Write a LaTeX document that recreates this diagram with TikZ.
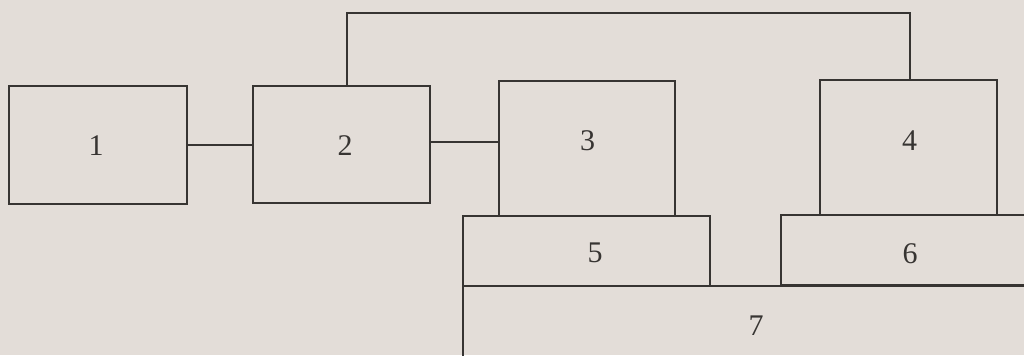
\documentclass[tikz,border=0pt]{standalone}
\usepackage{fontspec}
\setmainfont{Liberation Serif}
\definecolor{paper}{RGB}{227,221,216}
\definecolor{ink}{RGB}{55,52,50}
\begin{document}
\begin{tikzpicture}[x=0.5pt,y=-0.5pt,
  blk/.style={draw=ink,line width=0.7pt,rectangle,inner sep=0pt},
  lbl/.style={text=ink,inner sep=0pt,font=\fontsize{15}{17}\selectfont},
  wire/.style={draw=ink,line width=0.7pt}]
\fill[paper] (0,0) rectangle (1024,355);
\useasboundingbox (0,0) rectangle (1024,355);
\clip (0,0) rectangle (1024,355);
% boxes
\node[blk,minimum width=89pt,minimum height=59pt] (b1) at (98,145) {};
\node[blk,minimum width=88.5pt,minimum height=58.5pt] (b2) at (341.5,144.5) {};
\node[blk,minimum width=88pt,minimum height=67.5pt] (b3) at (587,148.5) {};
\node[blk,minimum width=88.5pt,minimum height=67.5pt] (b4) at (908.5,147.5) {};
\node[blk,minimum width=123.5pt,minimum height=35pt] (b5) at (586.5,251) {};
\node[blk,minimum width=130pt,minimum height=35pt] (b6) at (911,250) {};
\node[blk,line width=1.2pt,minimum width=300pt,minimum height=45pt] (b7) at (763,331) {};
% labels
\node[lbl] (t1) at (96,146) {1};
\node[lbl] (t2) at (345,145.5) {2};
\node[lbl] (t3) at (587.5,141) {3};
\node[lbl] (t4) at (909.5,141) {4};
\node[lbl] (t5) at (595,253) {5};
\node[lbl] (t6) at (910,254) {6};
\node[lbl] (t7) at (756,326) {7};
% connectors
\coordinate (tp) at (600,13);
\draw[wire] (b1.east) -- (b1.east -| b2.west);
\draw[wire] ([yshift=1.25pt]b2.east) -- ([yshift=1.25pt]b2.east -| b3.west);
\draw[wire] ([xshift=2.75pt]b2.north) |- (tp) -| ([xshift=0.75pt]b4.north);
\end{tikzpicture}
\end{document}
